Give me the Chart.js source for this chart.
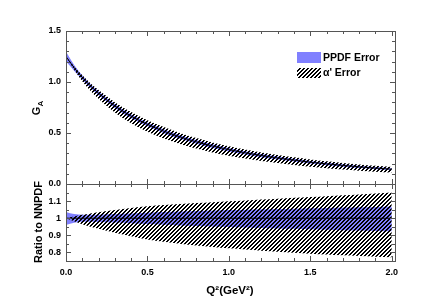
<!DOCTYPE html>
<html lang="en">
<head>
<meta charset="UTF-8">
<title>G_A vs Q2</title>
<script src="https://cdn.jsdelivr.net/npm/chart.js"></script>
<style>
  html, body { margin: 0; padding: 0; background: #fff; }
  #wrap { position: relative; width: 440px; height: 308px; }
  #wrap canvas { position: absolute; left: 0; top: 0; }
</style>
</head>
<body>
<div id="wrap">
  <canvas id="ratioChart" width="440" height="308"></canvas>
  <canvas id="gaChart" width="440" height="308"></canvas>
</div>
<script>
// data
const q2 = [0, 0.05, 0.1, 0.15, 0.2, 0.3, 0.4, 0.5, 0.6, 0.7, 0.8, 0.9, 1.0, 1.1, 1.2, 1.3, 1.4, 1.5, 1.6, 1.7, 1.8, 1.9, 2.0];
const gA = [1.25, 1.14, 1.045, 0.962, 0.89, 0.765, 0.665, 0.585, 0.518, 0.462, 0.413, 0.372, 0.337, 0.306, 0.279, 0.255, 0.234, 0.214, 0.197, 0.182, 0.168, 0.156, 0.145];
// ratio to central curve
const ratioCentral = [1, 1, 1, 1, 1, 1, 1, 1, 1, 1, 1, 1, 1, 1, 1, 1, 1, 1, 1, 1, 1, 1, 1];
const ppdfHigh = [1.037, 1.024, 1.02, 1.02, 1.021, 1.024, 1.028, 1.032, 1.036, 1.039, 1.042, 1.045, 1.048, 1.05, 1.052, 1.054, 1.056, 1.058, 1.06, 1.062, 1.064, 1.066, 1.068];
const ppdfLow = [0.96, 0.974, 0.979, 0.979, 0.978, 0.975, 0.971, 0.966, 0.962, 0.958, 0.955, 0.952, 0.949, 0.946, 0.943, 0.94, 0.938, 0.935, 0.933, 0.93, 0.928, 0.926, 0.924];
const alphaHigh = [1.0, 1.01, 1.02, 1.028, 1.035, 1.048, 1.06, 1.07, 1.077, 1.083, 1.089, 1.094, 1.099, 1.104, 1.109, 1.114, 1.119, 1.124, 1.129, 1.134, 1.139, 1.144, 1.15];
const alphaLow = [1.0, 0.982, 0.965, 0.95, 0.938, 0.915, 0.894, 0.875, 0.862, 0.851, 0.841, 0.832, 0.824, 0.817, 0.81, 0.804, 0.798, 0.793, 0.788, 0.783, 0.779, 0.775, 0.772];

const xTicks = [0, 0.5, 1.0, 1.5, 2.0];
const gaTicks = [0, 0.5, 1.0, 1.5];
const ratioTicks = [0.8, 0.9, 1, 1.1];
const legendLabels = ['PPDF Error', "\u03b1' Error"];

const BLUE = 'rgb(128,128,255)';
const FRAME = '#555';
const FONT = '"Liberation Sans", Arial, sans-serif';

// dense "/" hatching, drawn pixel by pixel so it stays crisp (2px lines every 4px)
function hatchPattern(ctx) {
    const s = 4;
    const c = document.createElement('canvas');
    c.width = s; c.height = s;
    const g = c.getContext('2d');
    g.fillStyle = '#000';
    for (let i = 0; i < s; i++) {
        g.fillRect((s - 1 - i) % s, i, 1, 1);
        g.fillRect((s - i) % s, i, 1, 1);
    }
    return ctx.createPattern(c, 'repeat');
}

const pts = (ys) => q2.map((x, i) => ({ x: x, y: ys[i] }));
const scaled = (r) => gA.map((v, i) => v * r[i]);

function bandSets(hatch, hiA, loA, hiP, loP, mid) {
    const base = { pointRadius: 0, borderWidth: 0, borderColor: 'transparent', cubicInterpolationMode: 'monotone' };
    return [
        { label: 'central', data: pts(mid), borderColor: '#000', borderWidth: 1, pointRadius: 0, fill: false, cubicInterpolationMode: 'monotone' },
        Object.assign({ label: legendLabels[1], data: pts(hiA), backgroundColor: hatch, fill: '+1' }, base),
        Object.assign({ label: 'alphaLow', data: pts(loA), fill: false }, base),
        Object.assign({ label: legendLabels[0], data: pts(hiP), backgroundColor: BLUE, fill: '+1' }, base),
        Object.assign({ label: 'ppdfLow', data: pts(loP), fill: false }, base)
    ];
}

// inward ticks + frame drawn from the chart's own scales
const frameTicks = {
    id: 'frameTicks',
    afterDraw(chart, args, o) {
        const { ctx, chartArea: a, scales } = chart;
        const xs = scales.x, ys = scales.y;
        ctx.save();
        ctx.strokeStyle = FRAME;
        ctx.lineWidth = 1;
        ctx.strokeRect(a.left + 0.5, a.top + 0.5, a.right - a.left, a.bottom - a.top);
        ctx.beginPath();
        for (let k = 0; k <= 20; k++) {
            const v = k / 10;
            const px = Math.round(xs.getPixelForValue(v)) + 0.5;
            const len = (k % 5 === 0) ? 5 : 3;
            ctx.moveTo(px, a.bottom); ctx.lineTo(px, a.bottom - len);
            ctx.moveTo(px, a.top); ctx.lineTo(px, a.top + len);
        }
        for (let k = 0; k <= o.nMinor; k++) {
            const v = o.yStart + k * o.yMinor;
            if (v < ys.min - 1e-9 || v > ys.max + 1e-9) continue;
            const py = Math.round(ys.getPixelForValue(v)) + 0.5;
            const major = o.majors.some(m => Math.abs(m - v) < 1e-6);
            const len = major ? 5 : 3;
            ctx.moveTo(a.left, py); ctx.lineTo(a.left + len, py);
            ctx.moveTo(a.right, py); ctx.lineTo(a.right - len, py);
        }
        ctx.stroke();
        ctx.restore();
    }
};

const titles = {
    id: 'titles',
    afterDraw(chart, args, o) {
        const ctx = chart.ctx;
        ctx.save();
        ctx.fillStyle = '#000';
        ctx.textBaseline = 'middle';
        if (o.yTitle) {
            ctx.translate(o.yTitle.x, o.yTitle.y);
            ctx.rotate(-Math.PI / 2);
            ctx.font = 'bold 11px ' + FONT;
            ctx.textAlign = 'left';
            const w = ctx.measureText(o.yTitle.text).width;
            const subW = o.yTitle.sub ? (ctx.font = 'bold 8px ' + FONT, ctx.measureText(o.yTitle.sub).width) : 0;
            const start = -(w + subW) / 2;
            ctx.font = 'bold 11px ' + FONT;
            ctx.fillText(o.yTitle.text, start, 0);
            if (o.yTitle.sub) {
                ctx.font = 'bold 8px ' + FONT;
                ctx.fillText(o.yTitle.sub, start + w, 4);
            }
            ctx.setTransform(1, 0, 0, 1, 0, 0);
        }
        if (o.xTitle) {
            ctx.font = 'bold 11.5px ' + FONT;
            ctx.textAlign = 'center';
            ctx.fillText(o.xTitle.text, o.xTitle.x, o.xTitle.y);
        }
        ctx.restore();
    }
};

const legendBox = {
    id: 'legendBox',
    afterDraw(chart) {
        const ctx = chart.ctx;
        ctx.save();
        ctx.fillStyle = BLUE;
        ctx.fillRect(297, 52, 24, 11);
        ctx.fillStyle = hatchPattern(ctx);
        ctx.fillRect(297, 68, 24, 10);
        ctx.fillStyle = '#000';
        ctx.font = 'bold 10.5px ' + FONT;
        ctx.textBaseline = 'middle';
        ctx.textAlign = 'left';
        ctx.fillText(legendLabels[0], 323, 58);
        ctx.fillText(legendLabels[1], 323, 73.5);
        ctx.restore();
    }
};

const tickFont = { family: FONT, size: 9, weight: 'bold' };

function baseOptions(padTop, xHeight, yMin, yMax, yTickVals, yFmt, showX) {
    return {
        responsive: false,
        animation: false,
        layout: { padding: { top: padTop, right: 45, left: 0, bottom: 0 } },
        plugins: { legend: { display: false }, tooltip: { enabled: false } },
        scales: {
            x: {
                type: 'linear', min: 0, max: 2.02,
                grid: { display: false, drawTicks: false },
                border: { display: false },
                afterBuildTicks: s => { s.ticks = xTicks.map(v => ({ value: v })); },
                afterFit: s => { s.height = xHeight; },
                ticks: { display: showX, padding: 6, color: '#000', font: tickFont, maxRotation: 0, callback: v => Number(v).toFixed(1) }
            },
            y: {
                type: 'linear', min: yMin, max: yMax,
                grid: { display: false, drawTicks: false },
                border: { display: false },
                afterBuildTicks: s => { s.ticks = yTickVals.map(v => ({ value: v })); },
                afterFit: s => { s.width = 66; },
                ticks: { padding: 5, color: '#000', font: tickFont, callback: yFmt }
            }
        }
    };
}

// bottom panel: ratio
const rctx = document.getElementById('ratioChart').getContext('2d');
const rOpts = baseOptions(184, 47, 0.75, 1.2, ratioTicks, v => (Math.abs(v - 1) < 1e-9 ? '1' : Number(v).toFixed(1)), true);
rOpts.plugins.frameTicks = { yStart: 0.75, yMinor: 0.05, nMinor: 9, majors: ratioTicks };
rOpts.plugins.titles = {
    yTitle: { text: 'Ratio to NNPDF', x: 39, y: 222 },
    xTitle: { text: 'Q\u00b2(GeV\u00b2)', x: 230, y: 291 }
};
new Chart(rctx, {
    type: 'line',
    data: { datasets: bandSets(hatchPattern(rctx), alphaHigh, alphaLow, ppdfHigh, ppdfLow, ratioCentral) },
    options: rOpts,
    plugins: [frameTicks, titles]
});

// top panel: G_A
const gctx = document.getElementById('gaChart').getContext('2d');
const gOpts = baseOptions(31, 124, 0, 1.5, gaTicks, v => Number(v).toFixed(1), false);
gOpts.plugins.frameTicks = { yStart: 0, yMinor: 0.1, nMinor: 15, majors: gaTicks };
gOpts.plugins.titles = { yTitle: { text: 'G', sub: 'A', x: 37, y: 108 } };
new Chart(gctx, {
    type: 'line',
    data: { datasets: bandSets(hatchPattern(gctx), scaled(alphaHigh), scaled(alphaLow), scaled(ppdfHigh), scaled(ppdfLow), gA) },
    options: gOpts,
    plugins: [frameTicks, titles, legendBox]
});
</script>
</body>
</html>
